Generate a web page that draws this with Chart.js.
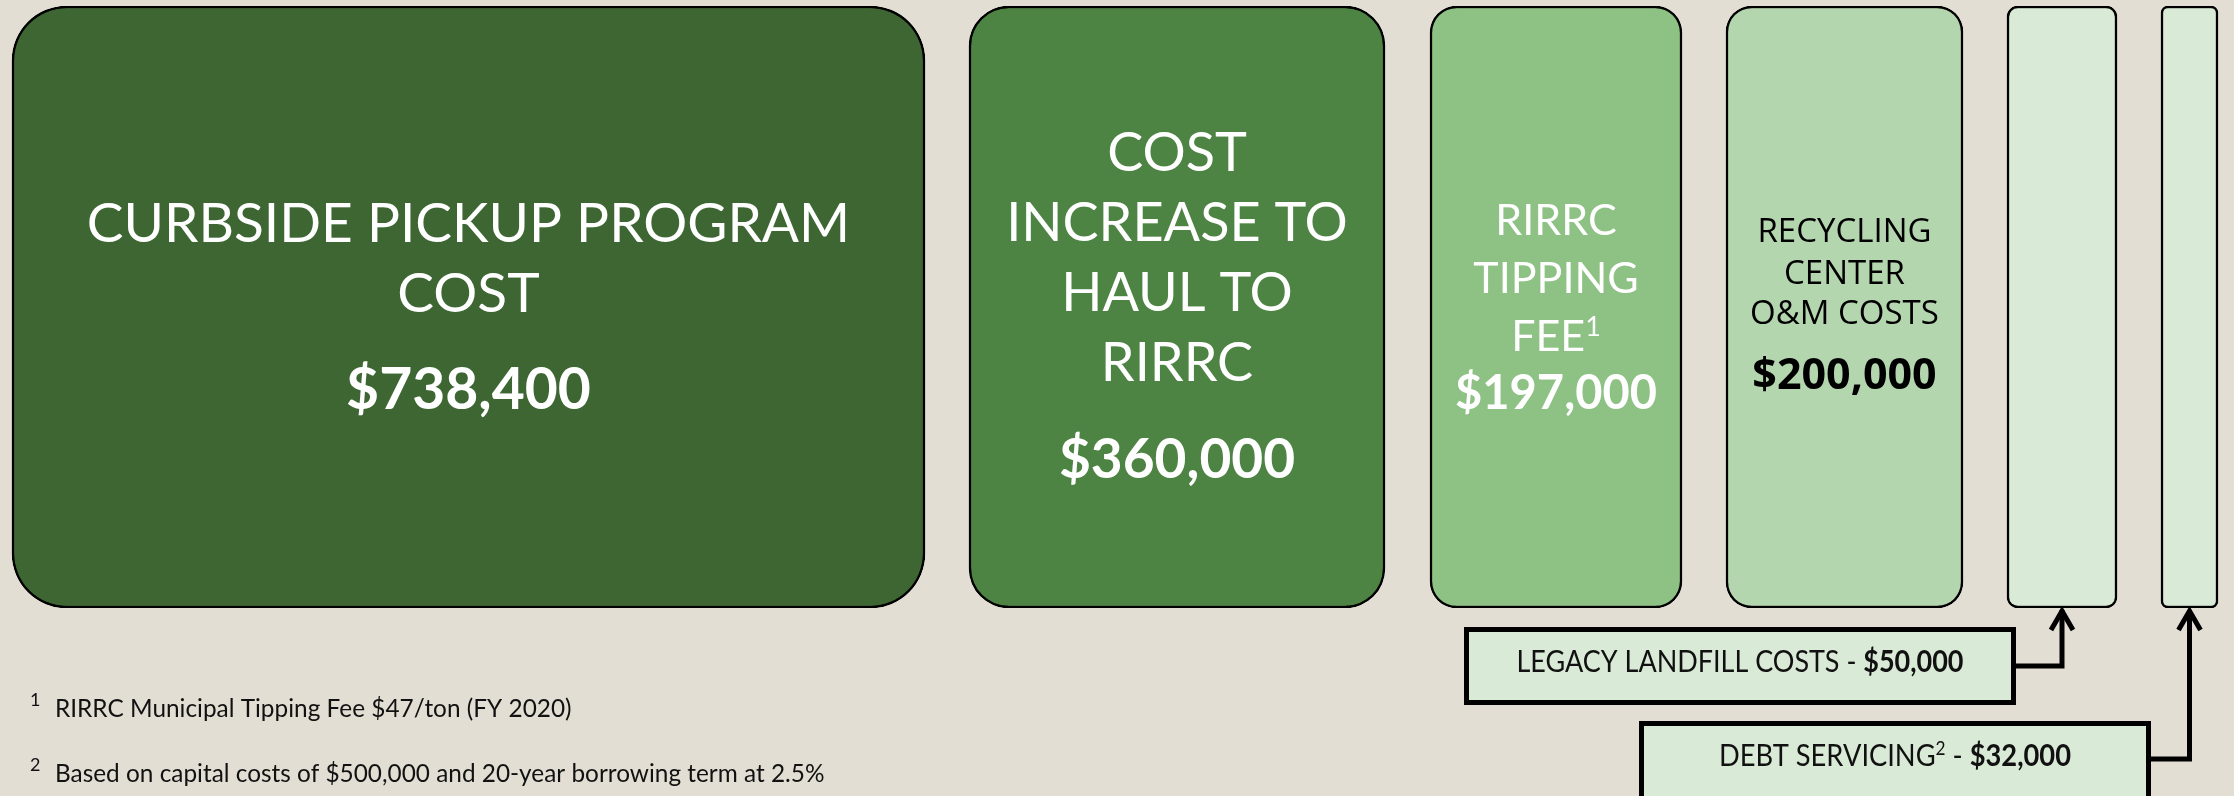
<!DOCTYPE html>
<html>
<head>
<meta charset="utf-8">
<script src="https://cdn.jsdelivr.net/npm/chart.js@4"></script>
<style>
  html, body { margin: 0; padding: 0; background: #E3DED3; overflow: hidden; }
  #costs { display: block; }
</style>
</head>
<body>
<canvas id="costs" width="2234" height="796"></canvas>
<script>
//cost items, in the order the boxes are drawn
const categories = ["Curbside pickup program cost", "Cost increase to haul to RIRRC", "RIRRC tipping fee",
    "Recycling center O&M costs", "Legacy landfill costs", "Debt servicing"];
const costs = [738400, 360000, 197000, 200000, 50000, 32000];
const boxTitles = [
    ["CURBSIDE PICKUP PROGRAM", "COST"],
    ["COST", "INCREASE TO", "HAUL TO", "RIRRC"],
    ["RIRRC", "TIPPING", "FEE\u00B9"],
    ["RECYCLING", "CENTER", "O&M COSTS"],
    [],
    []
];
const calloutTitles = ["LEGACY LANDFILL COSTS - ", "DEBT SERVICING\u00B2 - "];
const footnotes = ["RIRRC Municipal Tipping Fee $47/ton (FY 2020)",
    "Based on capital costs of $500,000 and 20-year borrowing term at 2.5%"];

//box extents along the horizontal layout axis (not proportional in the original)
const boxFrom = [12, 969, 1430, 1726, 2007, 2161];
const boxTo = [925, 1385, 1682, 1963, 2117, 2218];

//styles
const fills = ["#3D6633", "#4E8443", "#8EC184", "#B4D6AE", "#D9EAD6", "#D9EAD6"];
const radii = [55, 40, 27, 26, 11, 7];
const textStyle = [
    { color: "#fff", font: "Lato", size: 55, lines: [242, 312], amtSize: 57, amtY: 409 },
    { color: "#fff", font: "Lato", size: 54, lines: [171, 241, 311, 381], amtSize: 55, amtY: 478 },
    { color: "#fff", font: "Lato", size: 43, lines: [235, 293, 351], amtSize: 47, amtY: 409 },
    { color: "#000", font: "'Open Sans'", size: 33, lines: [242, 284, 324], amtSize: 43, amtY: 389 },
    null,
    null
];

const money = (v) => "$" + v.toLocaleString("en-US");
const SUP = { "\u00B9": "1", "\u00B2": "2" };

//split a string into plain runs and superscript digits
const splitSup = (text, size, weight) => {
    const parts = [];
    let cur = "";
    for (const ch of text) {
        if (SUP[ch]) {
            if (cur) parts.push({ text: cur, size: size, weight: weight, rise: 0 });
            parts.push({ text: SUP[ch], size: Math.round(size * 0.62), weight: weight, rise: size * 0.36 });
            cur = "";
        } else {
            cur += ch;
        }
    }
    if (cur) parts.push({ text: cur, size: size, weight: weight, rise: 0 });
    return parts;
};

//draw runs centred on cx; squeeze to maxW if given
const drawRuns = (ctx, runs, family, cx, y, maxW) => {
    const widths = runs.map((r) => {
        ctx.font = r.weight + " " + r.size + "px " + family;
        return ctx.measureText(r.text).width;
    });
    const total = widths.reduce((a, b) => a + b, 0);
    const sx = maxW ? maxW / total : 1;
    ctx.save();
    ctx.translate(cx - (total * sx) / 2, y);
    ctx.scale(sx, 1);
    ctx.textAlign = "left";
    let x = 0;
    runs.forEach((r, i) => {
        ctx.font = r.weight + " " + r.size + "px " + family;
        ctx.fillText(r.text, x, -r.rise);
        x += widths[i];
    });
    ctx.restore();
};

//draw labels, callouts and footnotes on top of the bars
const labelPlugin = {
    id: "labels",
    afterDatasetsDraw(chart) {
        const ctx = chart.ctx;
        ctx.save();
        ctx.textBaseline = "alphabetic";

        const boxes = chart.data.datasets.map((ds, i) => {
            const el = chart.getDatasetMeta(i).data[0];
            return { cx: (el.x + el.base) / 2, bottom: el.y + el.height / 2 };
        });

        //text inside the boxes
        boxes.forEach((b, i) => {
            const st = textStyle[i];
            if (!st) return;
            ctx.fillStyle = st.color;
            boxTitles[i].forEach((line, j) => {
                drawRuns(ctx, splitSup(line, st.size, "normal"), st.font, b.cx, st.lines[j]);
            });
            drawRuns(ctx, splitSup(money(costs[i]), st.amtSize, "bold"), st.font, b.cx, st.amtY);
        });

        //callout boxes with arrows to the two narrow boxes
        const callouts = [
            { left: 1464, right: 2016, top: 627, bottom: 705, lineY: 666, textY: 672, textW: 447, item: 4 },
            { left: 1639, right: 2151, top: 721, bottom: 802, lineY: 759, textY: 766, textW: 352, item: 5 }
        ];
        callouts.forEach((c, k) => {
            ctx.fillStyle = "#D9EAD6";
            ctx.fillRect(c.left, c.top, c.right - c.left, c.bottom - c.top);
            ctx.strokeStyle = "#000";
            ctx.lineWidth = 5;
            ctx.strokeRect(c.left + 2.5, c.top + 2.5, c.right - c.left - 5, c.bottom - c.top - 5);

            const target = boxes[c.item];
            ctx.lineJoin = "miter";
            ctx.beginPath();
            ctx.moveTo(c.right, c.lineY);
            ctx.lineTo(target.cx, c.lineY);
            ctx.lineTo(target.cx, target.bottom + 2);
            ctx.stroke();
            ctx.beginPath();
            ctx.moveTo(target.cx - 11, target.bottom + 22);
            ctx.lineTo(target.cx, target.bottom + 3);
            ctx.lineTo(target.cx + 11, target.bottom + 22);
            ctx.stroke();

            ctx.fillStyle = "#111";
            const runs = splitSup(calloutTitles[k], 30, "normal")
                .concat(splitSup(money(costs[c.item]), 30, "bold"));
            drawRuns(ctx, runs, "Lato", (c.left + c.right) / 2, c.textY, c.textW);
        });

        //footnotes
        ctx.textAlign = "left";
        ctx.fillStyle = "#111";
        const noteY = [717, 782];
        footnotes.forEach((note, k) => {
            ctx.font = "18px Lato";
            ctx.fillText(String(k + 1), 30, noteY[k] - 11);
            ctx.save();
            ctx.translate(55, noteY[k]);
            ctx.scale(0.975, 1);
            ctx.font = "25px Lato";
            ctx.fillText(note, 0, 0);
            ctx.restore();
        });
        ctx.restore();
    }
};

const ctx = document.getElementById("costs").getContext("2d");

new Chart(ctx, {
    type: "bar",
    data: {
        labels: ["costs"],
        datasets: categories.map((name, i) => ({
            label: name,
            data: [[boxFrom[i], boxTo[i]]],
            backgroundColor: fills[i],
            borderColor: "#000",
            borderWidth: 2.5,
            borderRadius: radii[i],
            borderSkipped: false,
            barPercentage: 1,
            categoryPercentage: 1,
            grouped: false
        }))
    },
    options: {
        indexAxis: "y",
        responsive: false,
        animation: false,
        layout: { padding: { top: 6, bottom: 188, left: 0, right: 0 } },
        scales: {
            x: { type: "linear", min: 0, max: 2234, display: false },
            y: { display: false }
        },
        plugins: {
            legend: { display: false },
            tooltip: { enabled: false }
        }
    },
    plugins: [labelPlugin]
});
</script>
</body>
</html>
